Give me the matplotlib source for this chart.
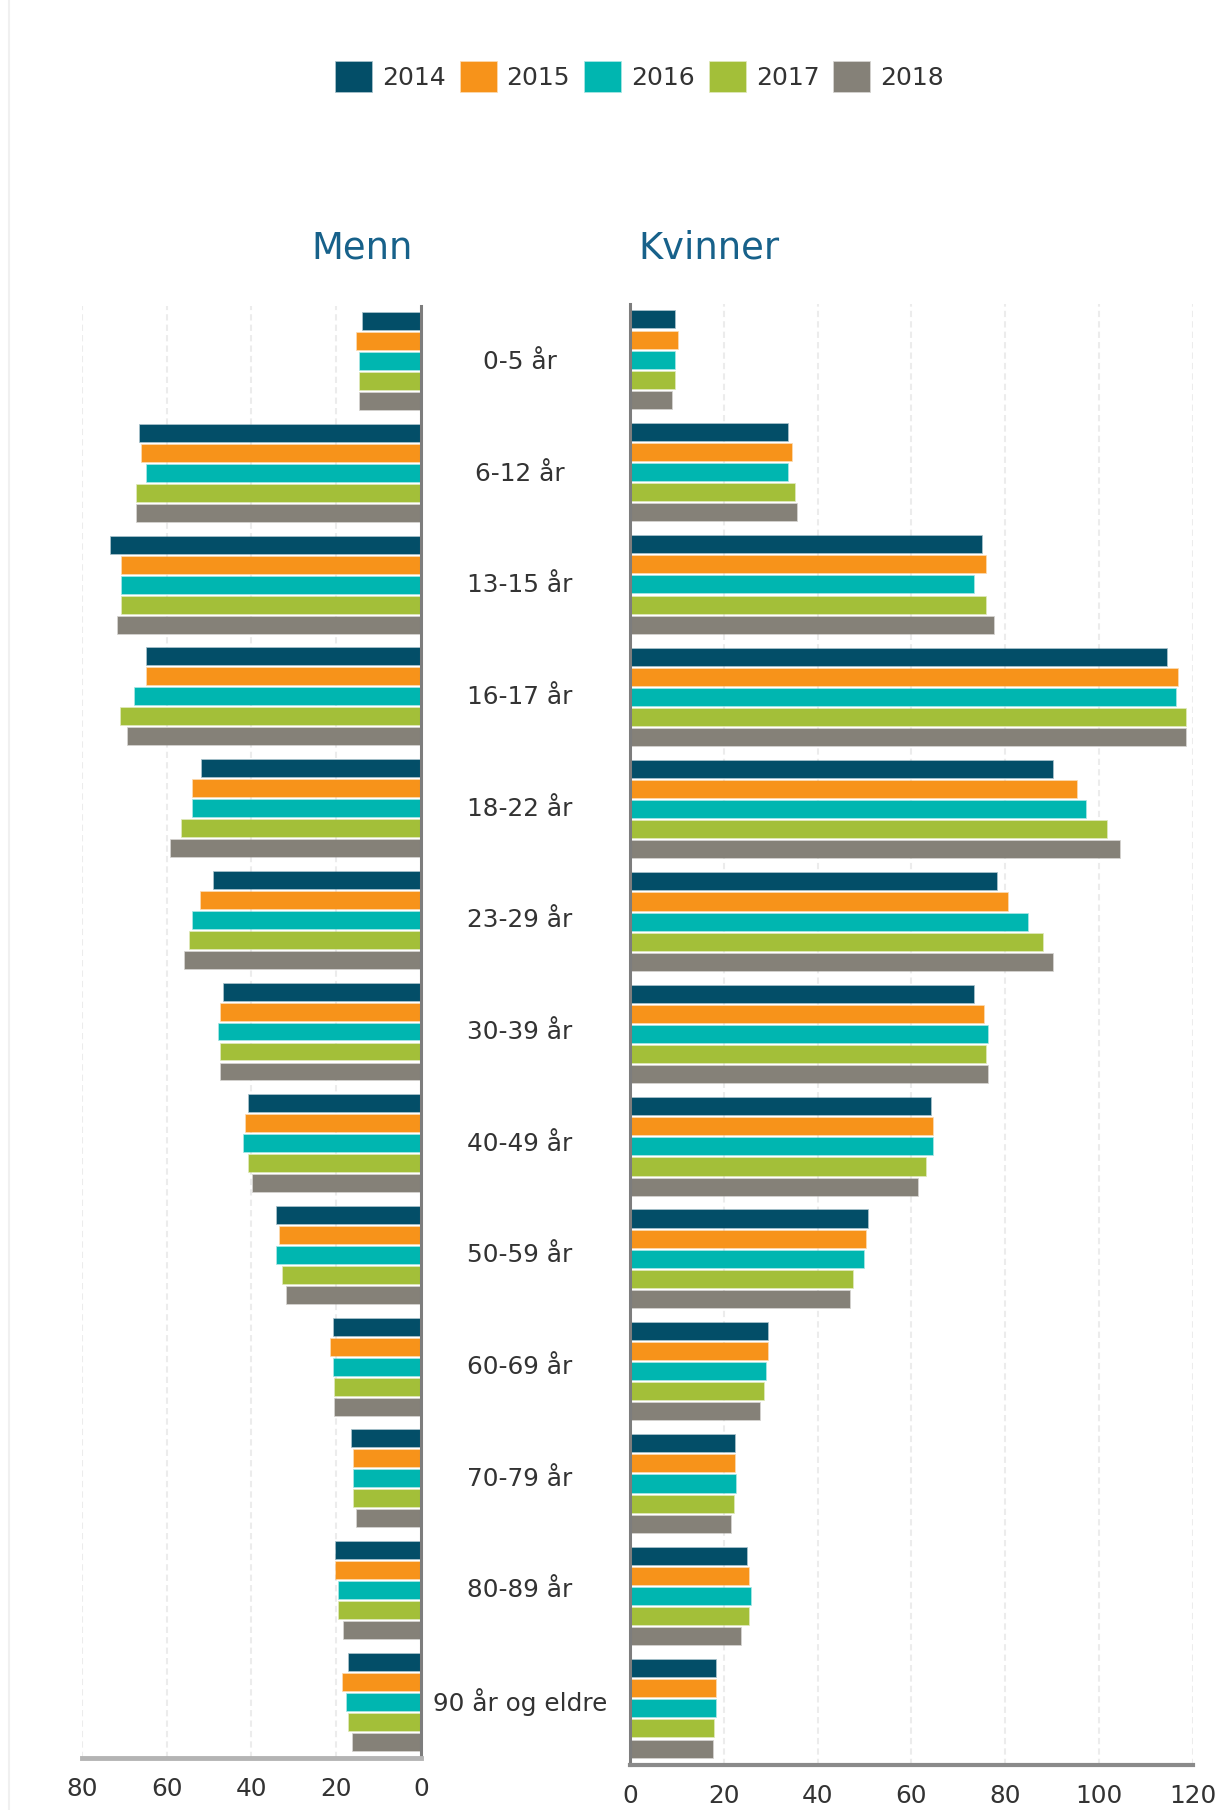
import numpy as np
import matplotlib.pyplot as plt
from matplotlib.colors import to_rgba
from matplotlib.lines import Line2D
from matplotlib.transforms import blended_transform_factory

## Data
aldersgrupper = ['0-5 år', '6-12 år', '13-15 år', '16-17 år', '18-22 år', '23-29 år',
                 '30-39 år', '40-49 år', '50-59 år', '60-69 år', '70-79 år',
                 '80-89 år', '90 år og eldre']
aar = ['2014', '2015', '2016', '2017', '2018']

menn_2014 = [13.8, 66.4, 73.1, 64.7, 51.6, 48.8, 46.5, 40.7, 33.9, 20.6, 16.3, 20.0, 17.0]
menn_2015 = [15.2, 65.8, 70.5, 64.7, 53.9, 51.8, 47.1, 41.3, 33.2, 21.3, 15.7, 20.0, 18.4]
menn_2016 = [14.4, 64.7, 70.5, 67.5, 53.9, 53.9, 47.7, 41.8, 33.9, 20.6, 15.7, 19.4, 17.5]
menn_2017 = [14.4, 67.0, 70.5, 70.9, 56.3, 54.4, 47.1, 40.7, 32.5, 20.3, 15.7, 19.4, 17.0]
menn_2018 = [14.4, 67.0, 71.4, 69.1, 59.1, 55.8, 47.1, 39.7, 31.7, 20.3, 15.0, 18.1, 16.0]

kvinner_2014 = [9.6, 33.7, 75.1, 114.4, 90.1, 78.2, 73.3, 64.2, 50.7, 29.5, 22.3, 24.9, 18.4]
kvinner_2015 = [10.2, 34.6, 75.9, 116.9, 95.2, 80.5, 75.5, 64.7, 50.3, 29.5, 22.3, 25.4, 18.4]
kvinner_2016 = [9.6, 33.7, 73.3, 116.4, 97.3, 84.8, 76.4, 64.7, 49.8, 28.9, 22.7, 25.7, 18.4]
kvinner_2017 = [9.6, 35.1, 75.9, 118.5, 101.7, 88.0, 75.9, 63.1, 47.5, 28.5, 22.1, 25.4, 17.9]
kvinner_2018 = [9.0, 35.7, 77.6, 118.5, 104.5, 90.1, 76.4, 61.4, 46.9, 27.8, 21.6, 23.7, 17.8]

menn = [menn_2014, menn_2015, menn_2016, menn_2017, menn_2018]
kvinner = [kvinner_2014, kvinner_2015, kvinner_2016, kvinner_2017, kvinner_2018]
farger = ['#034e68', '#f7931a', '#00b6b0', '#a3bf39', '#858178']

tekstfarge = '#333333'

## Figur og akser
fig = plt.figure(figsize=(12.22, 18.10), dpi=100)
axL = fig.add_axes([0.0671, 0.02873, 0.2774, 0.8022])
axR = fig.add_axes([0.5155, 0.02486, 0.4607, 0.8072])

y = np.arange(len(aldersgrupper))
hoyde = 0.152
steg = 0.179

for i, (navn, m, k, farge) in enumerate(zip(aar, menn, kvinner, farger)):
    off = (i - 2) * steg
    kant = to_rgba(farge, 0.45)
    axL.barh(y + off, m, height=hoyde, color=farge, edgecolor=kant, linewidth=1.2, label=navn)
    axR.barh(y + off, k, height=hoyde, color=farge, edgecolor=kant, linewidth=1.2)

axL.set_xlim(80, 0)
axL.set_xticks([80, 60, 40, 20, 0])
axR.set_xlim(0, 120)
axR.set_xticks(range(0, 121, 20))

for ax in (axL, axR):
    ax.set_ylim(12.5, -0.5)
    ax.set_yticks([])
    ax.grid(axis='x', color='#ececec', linestyle=(0, (3, 2)), linewidth=1.5)
    ax.set_axisbelow(True)
    ax.tick_params(axis='x', length=0, pad=14, labelsize=17.8, labelcolor=tekstfarge)
    ax.spines['top'].set_visible(False)

axL.spines['left'].set_visible(False)
axL.spines['right'].set_color('#7d7d7d')
axL.spines['right'].set_linewidth(2.2)
axL.spines['bottom'].set_color('#b4b4b4')
axL.spines['bottom'].set_linewidth(3.5)

axR.spines['right'].set_visible(False)
axR.spines['left'].set_color('#7d7d7d')
axR.spines['left'].set_linewidth(2.2)
axR.spines['bottom'].set_color('#8a8a8a')
axR.spines['bottom'].set_linewidth(3)

# aldersgruppene midt mellom de to aksene
trans = blended_transform_factory(fig.transFigure, axL.transData)
for yi, navn in zip(y, aldersgrupper):
    axL.text(0.4255, yi, navn, transform=trans, ha='center', va='center',
             fontsize=17.8, color=tekstfarge)

fig.text(0.338, 0.863, 'Menn', ha='right', va='center', fontsize=26.6, color='#17618a')
fig.text(0.522, 0.863, 'Kvinner', ha='left', va='center', fontsize=26.6, color='#17618a')

fig.legend(*axL.get_legend_handles_labels(), loc='center', bbox_to_anchor=(0.5237, 0.9575),
           ncol=5, frameon=False, fontsize=18, handlelength=1.44, handleheight=1.44,
           handletextpad=0.4, columnspacing=0.6, labelcolor=tekstfarge)

fig.add_artist(Line2D([0.0075, 0.0075], [0, 1], transform=fig.transFigure,
                      color='#f0f0f0', linewidth=1.5))

fig.savefig('out.png', dpi=100)
